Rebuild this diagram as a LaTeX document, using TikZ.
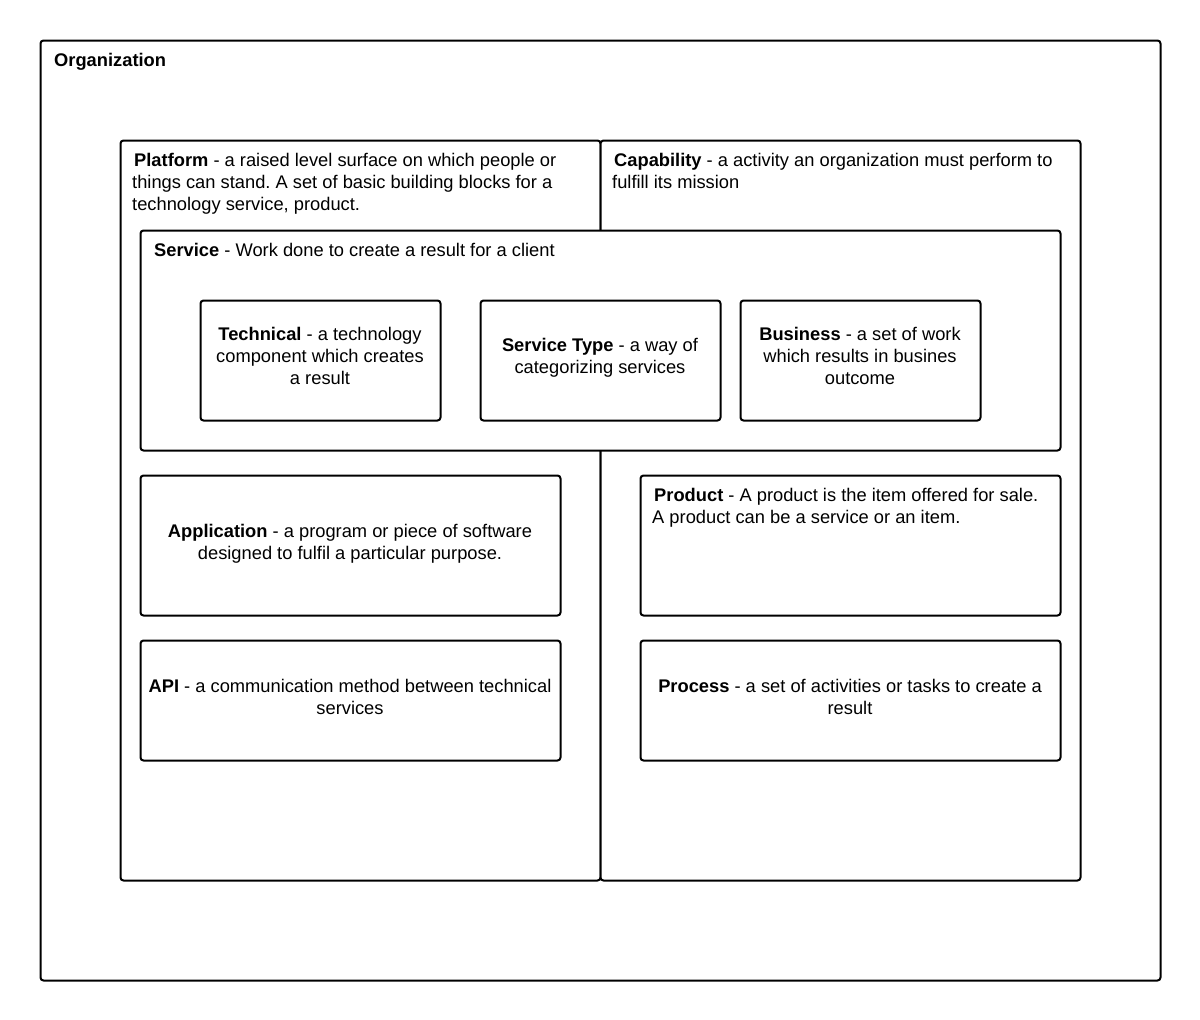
\documentclass[tikz,border=0pt]{standalone}
\usepackage{fontspec}
\setmainfont{Liberation Sans}
\frenchspacing
\begin{document}
\begin{tikzpicture}[x=1pt,y=-1pt,
  box/.style={draw,line width=2pt,rounded corners=3pt,fill=white,anchor=north west,inner sep=0pt},
  lbl/.style={inner sep=0pt,font=\fontsize{18.3}{22}\selectfont},
  lbll/.style={lbl,align=left,anchor=north west},
  lblc/.style={lbl,align=center,anchor=center}]
\useasboundingbox (0,0) rectangle (1200,1020);
\node[box,minimum width=1120pt,minimum height=940pt] (org) at (39.5,39.5) {};
\node[box,minimum width=480pt,minimum height=740pt] (plat) at (119.5,139.5) {};
\node[box,minimum width=480pt,minimum height=740pt] (cap) at (599.5,139.5) {};
\node[box,minimum width=920pt,minimum height=220pt] (serv) at (139.5,229.5) {};
\node[box,minimum width=240pt,minimum height=120pt] (tech) at (199.5,299.5) {};
\node[box,minimum width=240pt,minimum height=120pt] (stype) at (479.5,299.5) {};
\node[box,minimum width=240pt,minimum height=120pt] (bus) at (739.5,299.5) {};
\node[box,minimum width=420pt,minimum height=140pt] (app) at (139.5,474.5) {};
\node[box,minimum width=420pt,minimum height=120pt] (api) at (139.5,639.5) {};
\node[box,minimum width=420pt,minimum height=140pt] (prod) at (639.5,474.5) {};
\node[box,minimum width=420pt,minimum height=120pt] (proc) at (639.5,639.5) {};

\node[lbl,anchor=base west] (orgT) at (54,66.5) {\bfseries Organization};
\node[lbll] (platT) at (132,153.5) {\hspace{2pt}\textbf{Platform} - a raised level surface on which people or\\things can stand. A set of basic building blocks for a\\technology service, product.};
\node[lbll] (capT) at (612,153.5) {\hspace{2pt}\textbf{Capability} - a activity an organization must perform to\\fulfill its mission};
\node[lbll] (servT) at (154,243.5) {\textbf{Service} - Work done to create a result for a client};
\node[lblc] (techT) at (320,356) {\textbf{Technical} - a technology\\component which creates\\a result};
\node[lblc] (stypeT) at (600,358) {\textbf{Service Type} - a way of\\categorizing services};
\node[lblc] (busT) at (860,356) {\textbf{Business} - a set of work\\which results in busines\\outcome};
\node[lblc] (appT) at (350,544) {\textbf{Application} - a program or piece of software\\designed to fulfil a particular purpose.};
\node[lblc] (apiT) at (350,697) {\textbf{API} - a communication method between technical\\services};
\node[lbll] (prodT) at (652,488.5) {\hspace{2pt}\textbf{Product} - A product is the item offered for sale.\\A product can be a service or an item.};
\node[lblc] (procT) at (850,697) {\textbf{Process} - a set of activities or tasks to create a\\result};
\end{tikzpicture}
\end{document}
